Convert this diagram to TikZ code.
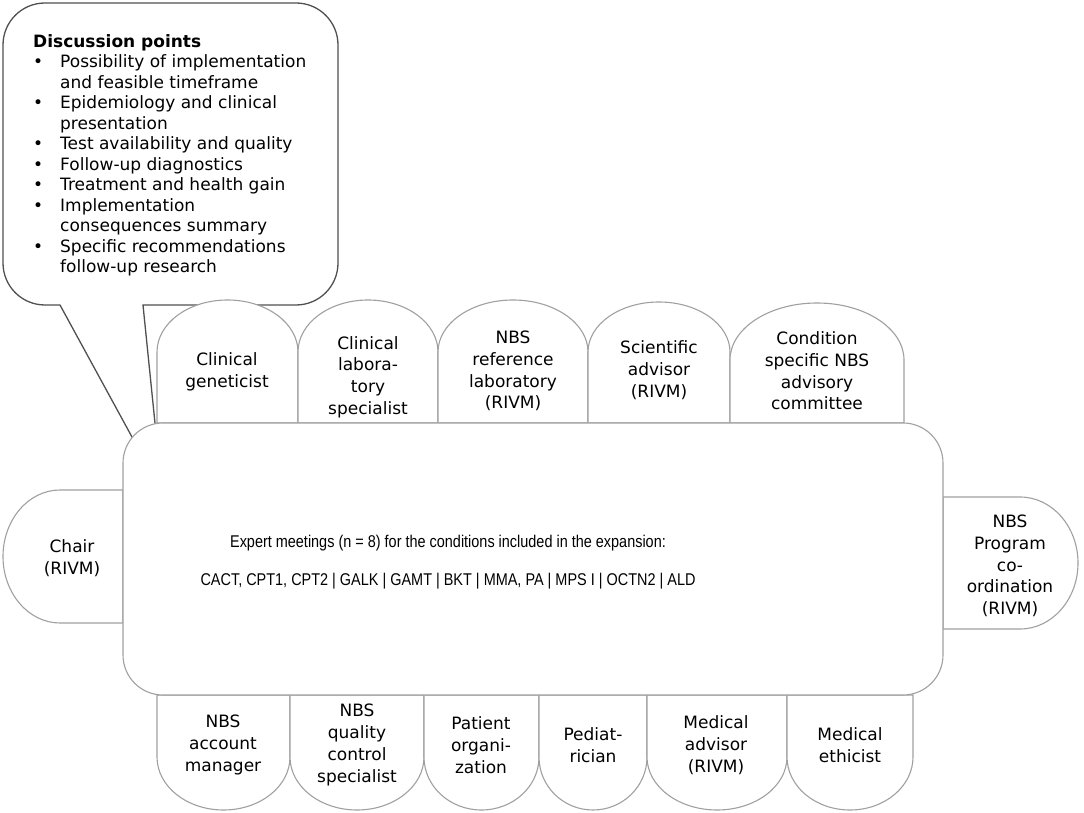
\documentclass[tikz,border=0pt]{standalone}
\usepackage{fontspec}
\setmainfont{DejaVu Sans}
\newfontfamily\narrowfont[FakeStretch=0.85]{Liberation Sans}
\definecolor{seatgray}{HTML}{A0A0A0}
\definecolor{bubblegray}{HTML}{505050}
\newcommand\bul{\makebox[27pt][l]{•}}
\newcommand\ind{\hspace*{27pt}}
\begin{document}
\begin{tikzpicture}[x=1pt,y=1pt,
  seat/.style={draw=seatgray, line width=1.1pt, fill=white},
  bubble/.style={draw=bubblegray, line width=1.3pt, fill=white},
  lbl/.style={align=center, inner sep=0pt, font=\fontsize{17}{21.7}\selectfont},
  mtext/.style={anchor=base, inner sep=0pt, font=\narrowfont\fontsize{17}{20}\selectfont}]
\useasboundingbox (0,0) rectangle (1084,812);
% speech bubble with tail
\path[bubble] (60,507) -- (45,507) arc[start angle=270, end angle=180, radius=42]
  -- (3,767) arc[start angle=180, end angle=90, radius=42]
  -- (296,809) arc[start angle=90, end angle=0, radius=42]
  -- (338,549) arc[start angle=0, end angle=-90, radius=42]
  -- (143,507) -- (162,320) -- cycle;
\node[anchor=north west, align=left, inner sep=0pt, font=\fontsize{17}{20.5}\selectfont] (disc) at (33,778)
 {\textbf{Discussion points}\\
  \bul Possibility of implementation\\
  \ind and feasible timeframe\\
  \bul Epidemiology and clinical\\
  \ind presentation\\
  \bul Test availability and quality\\
  \bul Follow-up diagnostics\\
  \bul Treatment and health gain\\
  \bul Implementation\\
  \ind consequences summary\\
  \bul Specific recommendations\\
  \ind follow-up research};
% top seats
\foreach \a/\b/\ys/\ry in {157/298/460/52, 298/438/460/52, 438/588/460/52, 588/730/460/50, 730/904/452/57}{
  \pgfmathsetmacro\rx{(\b-\a)/2}
  \path[seat] (\a,389) -- (\a,\ys) arc[start angle=180, end angle=0, x radius=\rx, y radius=\ry] -- (\b,389) -- cycle;
}
% bottom seats
\foreach \a/\b in {157/290, 290/424, 424/539, 539/647, 647/787, 787/913}{
  \pgfmathsetmacro\rx{(\b-\a)/2}
  \path[seat] (\a,117) -- (\a,55) arc[start angle=180, end angle=360, x radius=\rx, y radius=53] -- (\b,117) -- cycle;
}
% side seats
\path[seat] (123,322) -- (60,322) arc[start angle=90, end angle=270, x radius=57, y radius=66.5] -- (123,189) -- cycle;
\path[seat] (943,315) -- (1020,315) arc[start angle=90, end angle=-90, x radius=58, y radius=66] -- (943,183) -- cycle;
% table
\node[seat, rounded corners=40pt, minimum width=820pt, minimum height=272pt, inner sep=0pt] (main) at (533,253) {};
\node[mtext] (t1) at (448,265) {Expert meetings (n = 8) for the conditions included in the expansion:};
\node[mtext] (t2) at (448,227) {CACT, CPT1, CPT2 | GALK | GAMT | BKT | MMA, PA | MPS I | OCTN2 | ALD};
% labels top
\node[lbl] (s1) at (227,440) {Clinical\\geneticist};
\node[lbl] (s2) at (368,435) {Clinical\\labora-\\tory\\specialist};
\node[lbl] (s3) at (513,441) {NBS\\reference\\laboratory\\(RIVM)};
\node[lbl] (s4) at (659,442) {Scientific\\advisor\\(RIVM)};
\node[lbl] (s5) at (817,441) {Condition\\specific NBS\\advisory\\committee};
% labels bottom
\node[lbl] (b1) at (223,67) {NBS\\account\\manager};
\node[lbl] (b2) at (357,67) {NBS\\quality\\control\\specialist};
\node[lbl] (b3) at (481,67) {Patient\\organi-\\zation};
\node[lbl] (b4) at (593,67) {Pediat-\\rician};
\node[lbl] (b5) at (716,67) {Medical\\advisor\\(RIVM)};
\node[lbl] (b6) at (850,67) {Medical\\ethicist};
% side labels
\node[lbl] (chair) at (72,254) {Chair\\(RIVM)};
\node[lbl] (prog) at (1010,246) {NBS\\Program\\co-\\ordination\\(RIVM)};
\end{tikzpicture}
\end{document}
